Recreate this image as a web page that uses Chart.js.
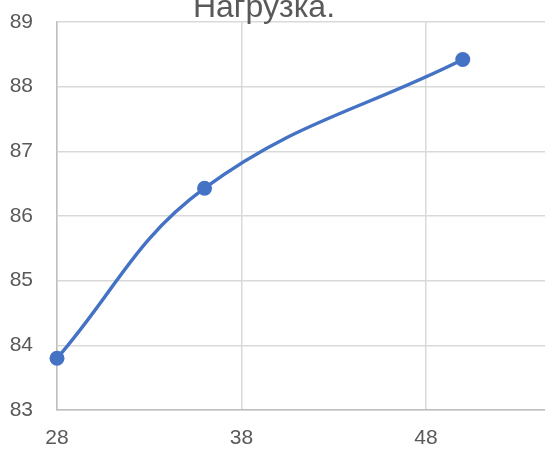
<!DOCTYPE html>
<html><head><meta charset="utf-8">
<script src="https://cdn.jsdelivr.net/npm/chart.js@4"></script>
<style>html,body{margin:0;padding:0;overflow:hidden;background:#fff;width:545px;height:453px}</style>
</head><body>
<canvas id="c" width="638" height="453"></canvas>
<script>
const titleText = "Нагрузка.";
const xValues = [28, 36, 50];
const yValues = [83.8, 86.43, 88.42];
const xTicks = [28, 38, 48, 58];
const yMin = 83, yMax = 89;

const titlePlugin = {
  id: 'cutTitle',
  afterDraw(chart) {
    const ctx = chart.ctx;
    ctx.save();
    ctx.font = '32px "Liberation Sans", Arial, sans-serif';
    ctx.fillStyle = '#595959';
    ctx.textAlign = 'center';
    ctx.textBaseline = 'alphabetic';
    ctx.fillText(titleText, 264, 16.5);
    ctx.restore();
  }
};

new Chart(document.getElementById('c'), {
  type: 'scatter',
  data: {
    datasets: [{
      data: xValues.map((x, i) => ({x, y: yValues[i]})),
      showLine: true,
      borderColor: '#4472C4',
      backgroundColor: '#4472C4',
      borderWidth: 3.5,
      pointRadius: 7.5,
      pointHoverRadius: 7.5,
      pointBorderWidth: 0,
      tension: 0.4,
      clip: false
    }]
  },
  options: {
    responsive: false,
    animation: false,
    layout: { padding: { top: 22, right: 14, left: 0, bottom: 0 } },
    plugins: { legend: { display: false }, tooltip: { enabled: false } },
    scales: {
      x: {
        type: 'linear', min: 28, max: 58,
        afterBuildTicks(s) { s.ticks = xTicks.map(v => ({value: v})); },
        afterFit(s) { s.height = 43; },
        grid: { color: '#d9d9d9', lineWidth: 1.5, drawTicks: false },
        border: { color: '#bfbfbf', width: 1.5 },
        ticks: { color: '#595959', padding: 16, maxRotation: 0, font: { family: '"Liberation Sans", Arial, sans-serif', size: 21 } }
      },
      y: {
        min: yMin, max: yMax,
        afterFit(s) { s.width = 57; s.paddingTop = 0; s.paddingBottom = 0; },
        grid: { color: '#d9d9d9', lineWidth: 1.5, drawTicks: false },
        border: { color: '#bfbfbf', width: 1.5 },
        ticks: { color: '#595959', stepSize: 1, padding: 24, font: { family: '"Liberation Sans", Arial, sans-serif', size: 21 } }
      }
    }
  },
  plugins: [titlePlugin]
});
</script>
</body></html>
